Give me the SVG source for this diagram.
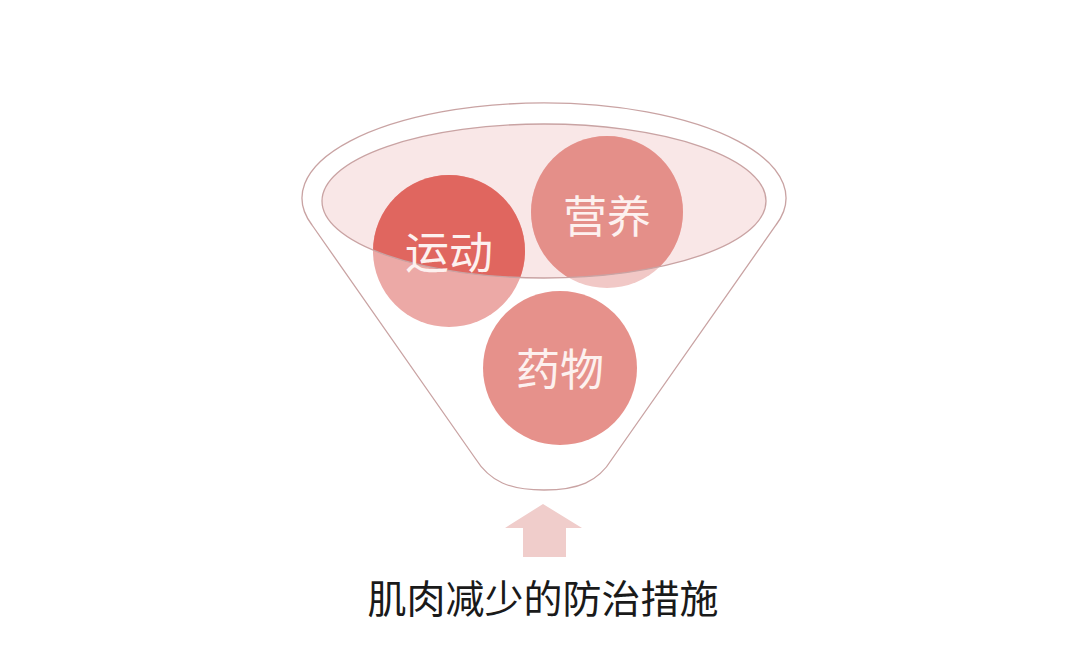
<svg xmlns="http://www.w3.org/2000/svg" width="1080" height="649" viewBox="0 0 1080 649">
<style>
.line{fill:none;stroke:#c9a3a3;stroke-width:1.3}
.lbl{font-family:"Noto Sans CJK SC","Noto Sans",sans-serif;font-size:44px;fill:#fdf1ef;text-anchor:middle;dominant-baseline:central}
.title{font-family:"Noto Sans CJK SC","Noto Sans",sans-serif;font-size:39px;fill:#1a1a1a;text-anchor:middle}
</style>
<defs>
<clipPath id="inner"><ellipse cx="544" cy="201" rx="222" ry="77"/></clipPath>
</defs>
<rect width="1080" height="649" fill="#ffffff"/>
<g id="funnel">
<path class="line" d="M312,225 L475,458 C490,482 510,490 544,490 C578,490 598,482 612,459 L776,225 A242 95 0 1 0 312,225 Z" style="fill:#ffffff"/>
<ellipse cx="544" cy="201" rx="222" ry="77" fill="#f9e7e7"/>
</g>
<g id="node-yundong">
<circle cx="449" cy="251" r="76" fill="#eca9a6"/>
<circle cx="449" cy="251" r="76" fill="#e0665f" clip-path="url(#inner)"/>
</g>
<g id="node-yingyang">
<circle cx="607" cy="212" r="76" fill="#f1c8c6"/>
<circle cx="607" cy="212" r="76" fill="#e48f89" clip-path="url(#inner)"/>
</g>
<g id="node-yaowu">
<circle cx="560" cy="368" r="77" fill="#e6918b"/>
</g>
<ellipse class="line" cx="544" cy="201" rx="222" ry="77"/>
<g id="labels">
<text class="lbl" x="449" y="250">运动</text>
<text class="lbl" x="607" y="214">营养</text>
<text class="lbl" x="560" y="367">药物</text>
</g>
<g id="connectors">
<path d="M543,504 L582,528 L566,528 L566,557 L523,557 L523,528 L505,528 Z" fill="#f0cdcb"/>
</g>
<g id="title">
<text class="title" x="543" y="613">肌肉减少的防治措施</text>
</g>
</svg>
